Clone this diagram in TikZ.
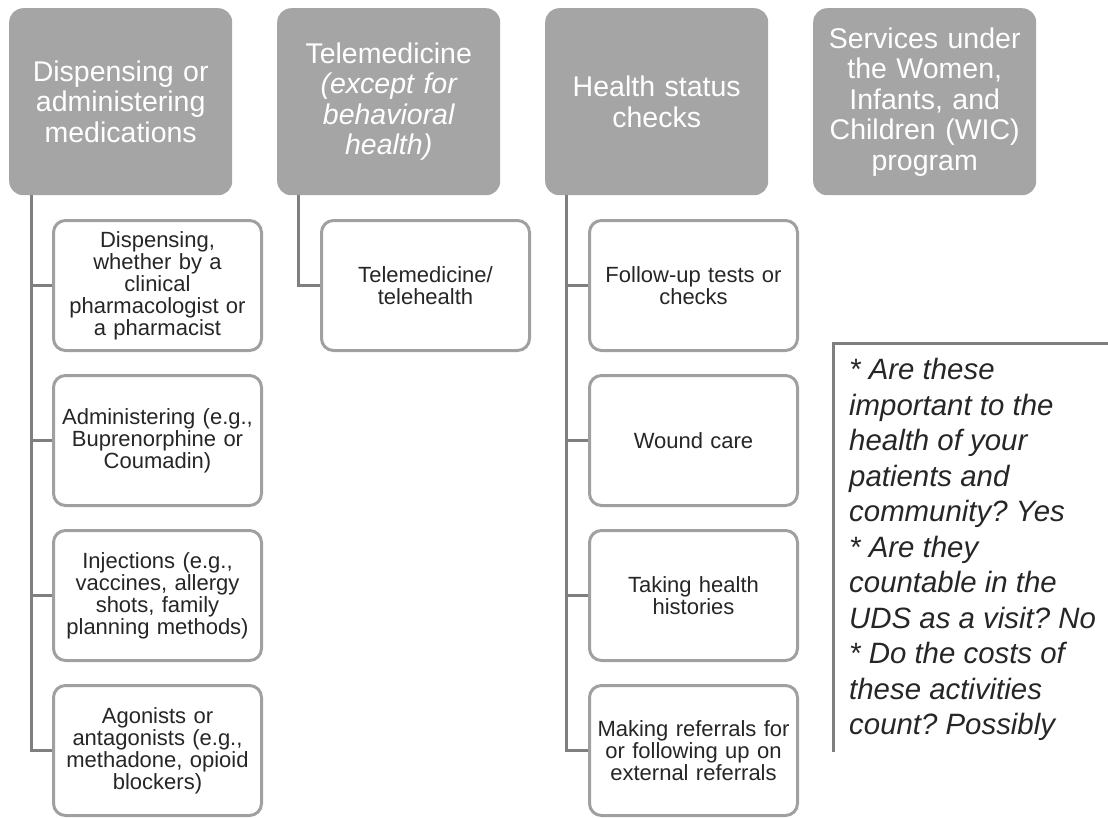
\documentclass[tikz,border=0pt]{standalone}
\usepackage{fontspec}
\setmainfont{Liberation Sans}
\usetikzlibrary{positioning}

\definecolor{hdrgray}{RGB}{165,165,165}
\definecolor{linegray}{RGB}{127,127,127}
\definecolor{boxgray}{RGB}{160,160,160}
\definecolor{txtgray}{RGB}{38,38,38}

\begin{document}
\frenchspacing
\begin{tikzpicture}[x=1pt,y=-1pt,
  header/.style={fill=hdrgray,rounded corners=14pt,minimum width=223pt,minimum height=187pt,inner sep=0pt,text=white,text width=215pt,align=center,font=\fontsize{28.5}{30.5}\selectfont,anchor=north west},
  item/.style={draw=boxgray,line width=3pt,fill=white,rounded corners=12pt,minimum width=208pt,minimum height=130pt,inner sep=0pt,text=txtgray,text width=205pt,align=center,font=\fontsize{22}{22}\selectfont},
  link/.style={draw=linegray,line width=3pt},
  note/.style={text=txtgray,inner sep=0pt,align=left,font=\fontsize{29.4}{35.5}\selectfont\itshape}]
\useasboundingbox (0,0) rectangle (1108,817);

% top row
\node[header] (h1) at (9,8) {Dispensing or\\ administering\\ medications};
\node[header] (h2) at (277,8) {Telemedicine\\ \itshape (except for\\ behavioral\\ health)};
\node[header] (h3) at (545,8) {Health status\\ checks};
\node[header] (h4) at (813,8) {Services under\\ the Women,\\ Infants, and\\ Children (WIC)\\ program};

% medications
\node[item,anchor=north west] (c11) at (52,219) {Dispensing,\\ whether by a\\ clinical\\ pharmacologist or\\ a pharmacist};
\node[item,below=22pt of c11] (c12) {Administering (e.g.,\\ Buprenorphine or\\ Coumadin)};
\node[item,below=22pt of c12] (c13) {Injections (e.g.,\\ vaccines, allergy\\ shots, family\\ planning methods)};
\node[item,below=22pt of c13] (c14) {Agonists or\\ antagonists (e.g.,\\ methadone, opioid\\ blockers)};

% telemedicine
\node[item,anchor=north west] (c21) at (320,219) {Telemedicine/\\ telehealth};

% health checks
\node[item,anchor=north west] (c31) at (588,219) {Follow-up tests or\\ checks};
\node[item,below=22pt of c31] (c32) {Wound care};
\node[item,below=22pt of c32] (c33) {Taking health\\ histories};
\node[item,below=22pt of c33] (c34) {Making referrals for\\ or following up on\\ external referrals};

\foreach \c in {c11,c12,c13,c14}
  \draw[link] ([xshift=22pt]h1.south west) |- (\c.west);
\draw[link] ([xshift=21pt]h2.south west) |- (c21.west);
\foreach \c in {c31,c32,c33,c34}
  \draw[link] ([xshift=21pt]h3.south west) |- (\c.west);

% note
\draw[linegray,line width=3pt] (1110,343) -- (833,343) -- (833,752);
\node[note,anchor=north west] (q) at (849,358) {* Are these\\ important to the\\ health of your\\ patients and\\ community? Yes\\ * Are they\\ countable in the\\ UDS as a visit? No\\ * Do the costs of\\ these activities\\ count? Possibly};

\end{tikzpicture}
\end{document}
